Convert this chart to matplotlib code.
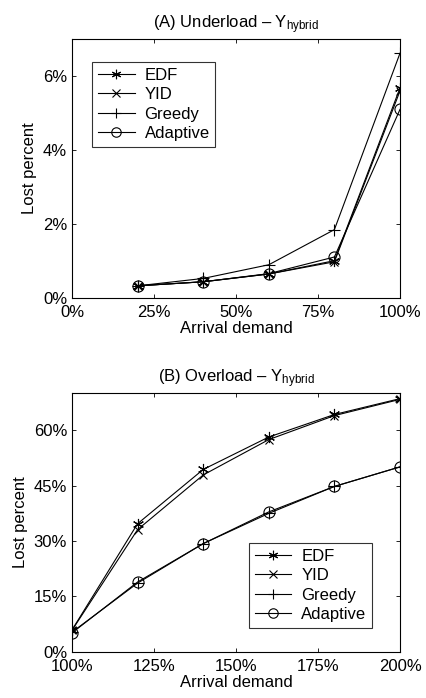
import matplotlib
matplotlib.use("Agg")
import matplotlib.pyplot as plt
from matplotlib.ticker import FuncFormatter

plt.rcParams['font.family'] = ['Liberation Sans', 'DejaVu Sans']
plt.rcParams['mathtext.fontset'] = 'custom'
plt.rcParams['mathtext.rm'] = 'Liberation Sans'
plt.rcParams['mathtext.it'] = 'Liberation Sans'

# ---- Data ----
series_names = ["EDF", "YID", "Greedy", "Adaptive"]

under_x = [20, 40, 60, 80, 100]
under_edf = [0.33, 0.44, 0.65, 1.01, 5.68]
under_yid = [0.33, 0.44, 0.65, 0.98, 5.60]
under_greedy = [0.33, 0.53, 0.90, 1.85, 6.62]
under_adaptive = [0.33, 0.44, 0.66, 1.11, 5.10]

over_x = [100, 120, 140, 160, 180, 200]
over_edf = [5.9, 34.7, 49.4, 58.2, 64.3, 68.6]
over_yid = [5.8, 33.1, 47.9, 57.5, 64.0, 68.4]
over_greedy = [5.3, 18.6, 29.3, 37.5, 44.8, 50.1]
over_adaptive = [5.1, 18.9, 29.3, 37.9, 44.8, 50.1]

under_xticks = [0, 25, 50, 75, 100]
under_yticks = [0, 2, 4, 6]
over_xticks = [100, 125, 150, 175, 200]
over_yticks = [0, 15, 30, 45, 60]

FS = 12

styles = [
    dict(marker=(6, 2, 0), ms=8, mew=0.8),
    dict(marker='x', ms=6, mew=0.8),
    dict(marker='+', ms=9, mew=0.8),
    dict(marker='o', ms=8, mew=0.8, mfc='none'),
]

fig = plt.figure(figsize=(4.26, 6.98), dpi=100)
ax1 = fig.add_axes([0.169, 0.573, 0.770, 0.371])
ax2 = fig.add_axes([0.169, 0.0663, 0.770, 0.370])

pct = FuncFormatter(lambda v, p: f"{v:.0f}%")

def style_axes(ax, xticks, yticks, xlim, ylim):
    ax.set_xlim(*xlim)
    ax.set_ylim(*ylim)
    ax.set_xticks(xticks)
    ax.set_yticks(yticks)
    ax.xaxis.set_major_formatter(pct)
    ax.yaxis.set_major_formatter(pct)
    ax.tick_params(direction='in', top=True, right=True, labelsize=FS,
                   length=3, width=0.6)
    ax.tick_params(axis='x', pad=5)
    ax.tick_params(axis='y', pad=3.5)
    for s in ax.spines.values():
        s.set_linewidth(0.8)
    ax.set_xlabel("Arrival demand", fontsize=FS, labelpad=1)
    ax.set_ylabel("Lost percent", fontsize=FS, labelpad=4)

for ys, nm, st in zip([under_edf, under_yid, under_greedy, under_adaptive], series_names, styles):
    ax1.plot(under_x, ys, color='black', lw=0.8, mec='black', label=nm, **st)
for ys, nm, st in zip([over_edf, over_yid, over_greedy, over_adaptive], series_names, styles):
    ax2.plot(over_x, ys, color='black', lw=0.8, mec='black', label=nm, **st)

style_axes(ax1, under_xticks, under_yticks, (0, 100), (0, 7))
style_axes(ax2, over_xticks, over_yticks, (100, 200), (0, 70))

ax1.set_title(r"(A) Underload – Y$_{\mathrm{hybrid}}$", fontsize=FS, pad=8)
ax2.set_title(r"(B) Overload – Y$_{\mathrm{hybrid}}$", fontsize=FS, pad=8)

legkw = dict(fontsize=FS, frameon=True, fancybox=False, edgecolor='black',
             borderaxespad=0, handlelength=2.2, handletextpad=0.6,
             labelspacing=0.26, borderpad=0.35, markerscale=0.85)
l1 = ax1.legend(loc='upper left', bbox_to_anchor=(0.061, 0.911), **legkw)
l2 = ax2.legend(loc='lower right', bbox_to_anchor=(0.915, 0.093), **legkw)
for l in (l1, l2):
    l.get_frame().set_linewidth(0.8)

fig.savefig("out.png", dpi=100)
